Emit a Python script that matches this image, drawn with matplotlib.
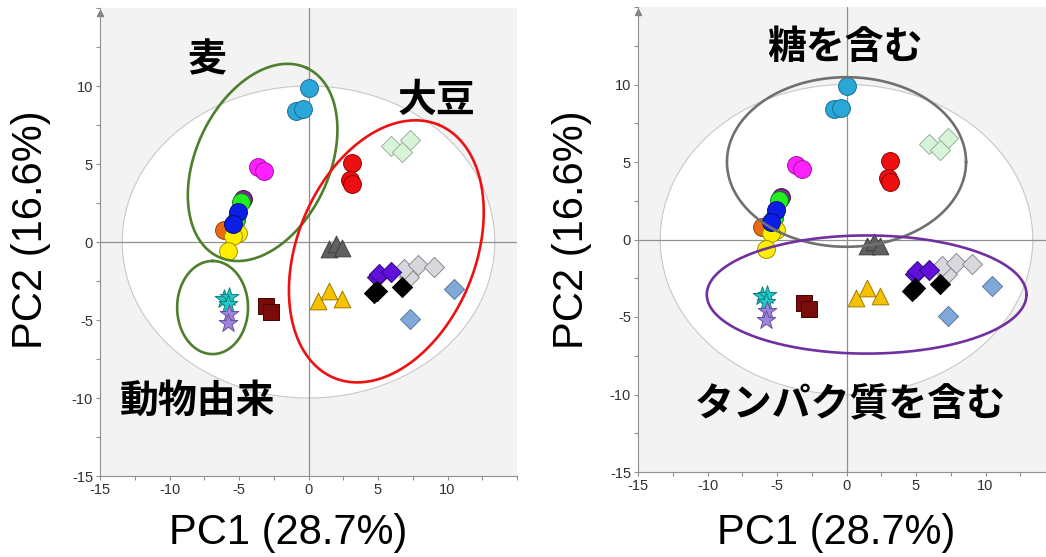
import numpy as np
import matplotlib
matplotlib.use("Agg")
import matplotlib.pyplot as plt
from matplotlib.patches import Ellipse
from matplotlib.ticker import MultipleLocator

plt.rcParams['font.family'] = ['Liberation Sans', 'DejaVu Sans']
plt.rcParams['axes.unicode_minus'] = False
JP = ['Noto Sans CJK JP', 'DejaVu Sans']

# PCA スコア (PC1, PC2)
cyan_x, cyan_y = [0.0, -0.9, -0.4], [9.9, 8.4, 8.5]
magenta_x, magenta_y = [-3.6, -3.2], [4.8, 4.55]
violet_x, violet_y = [-4.7], [2.75]
green_x, green_y = [-4.85, -5.2], [2.55, 1.4]
orange_x, orange_y = [-6.1], [0.8]
yellow_x, yellow_y = [-5.1, -5.4, -5.8], [0.6, 0.4, -0.6]
blue_x, blue_y = [-5.1, -5.4], [1.9, 1.15]
red_x, red_y = [3.1, 3.0, 3.1], [5.05, 4.0, 3.7]
mint_x, mint_y = [5.9, 7.3, 6.75], [6.15, 6.55, 5.75]
gray_tri_x, gray_tri_y = [1.5, 2.0, 2.4], [-0.45, -0.15, -0.4]
gold_x, gold_y = [0.7, 1.5, 2.4], [-3.8, -3.15, -3.65]
silver_x, silver_y = [7.2, 6.9, 7.9, 9.0], [-2.25, -1.7, -1.5, -1.6]
purple_x, purple_y = [4.9, 5.1, 5.9], [-2.25, -2.05, -1.95]
black_x, black_y = [4.7, 4.9, 6.7], [-3.3, -3.15, -2.9]
steel_x, steel_y = [10.5, 7.3], [-3.0, -4.95]
maroon_x, maroon_y = [-3.05, -2.7], [-4.1, -4.5]
teal_x, teal_y = [-6.1, -5.7, -5.8], [-3.65, -3.55, -4.0]
lilac_x, lilac_y = [-5.7, -5.8], [-4.6, -5.2]

# (x, y, marker, size, face, edge)
groups = [
    (cyan_x, cyan_y, 'o', 165, '#2aa7d9', '#1a6f90'),
    (magenta_x, magenta_y, 'o', 165, '#ff20ff', '#a010a0'),
    (violet_x, violet_y, 'o', 165, '#7a2a9a', '#40104a'),
    (green_x, green_y, 'o', 165, '#22ee22', '#108010'),
    (orange_x, orange_y, 'o', 165, '#ec6a10', '#904010'),
    (yellow_x, yellow_y, 'o', 165, '#ffee00', '#a09000'),
    (blue_x, blue_y, 'o', 165, '#0a1ee6', '#000a80'),
    (red_x, red_y, 'o', 165, '#ee1010', '#900000'),
    (mint_x, mint_y, 'D', 105, '#d8f4d8', '#9ab09a'),
    (gray_tri_x, gray_tri_y, '^', 145, '#606060', '#404040'),
    (gold_x, gold_y, '^', 145, '#f6c200', '#a07a00'),
    (silver_x, silver_y, 'D', 105, '#d6d8de', '#8a8a90'),
    (purple_x, purple_y, 'D', 105, '#6010d8', '#300880'),
    (black_x, black_y, 'D', 105, '#000000', '#000000'),
    (steel_x, steel_y, 'D', 105, '#80a8d8', '#5a7aa0'),
    (maroon_x, maroon_y, 's', 140, '#7a0c0c', '#4a0000'),
    (teal_x, teal_y, '*', 200, '#22c8c8', '#108080'),
    (lilac_x, lilac_y, '*', 200, '#a084dc', '#6a50a0'),
]


def ring(ax, cx, cy, a, b, deg, color):
    # ellipse drawn in screen-isotropic units so tilt looks right
    bb = ax.get_position()
    x0, x1 = ax.get_xlim()
    y0, y1 = ax.get_ylim()
    r = (bb.width * 1046 / (x1 - x0)) / (bb.height * 557 / (y1 - y0))
    t = np.linspace(0, 2 * np.pi, 300)
    u, v = a * np.cos(t), b * np.sin(t)
    th = np.radians(deg)
    xs = cx + u * np.cos(th) - v * np.sin(th)
    ys = cy + (u * np.sin(th) + v * np.cos(th)) * r
    ax.plot(xs, ys, color=color, lw=1.9, zorder=5)


def panel(rect, xlim):
    ax = fig.add_axes(rect)
    ax.set_xlim(*xlim)
    ax.set_ylim(-15, 15)
    ax.set_facecolor('#f3f3f3')
    ax.add_patch(Ellipse((0, 0), 26.8, 20, facecolor='white',
                         edgecolor='#c8c8c8', lw=0.8, zorder=0))
    ax.axhline(0, color='#909090', lw=0.9, zorder=1)
    ax.axvline(0, color='#909090', lw=0.9, zorder=1)
    for s in ['top', 'right']:
        ax.spines[s].set_visible(False)
    for s in ['left', 'bottom']:
        ax.spines[s].set_color('#909090')
    ax.set_xticks([-15, -10, -5, 0, 5, 10])
    ax.set_yticks([-15, -10, -5, 0, 5, 10])
    ax.xaxis.set_minor_locator(MultipleLocator(2.5))
    ax.yaxis.set_minor_locator(MultipleLocator(2.5))
    ax.tick_params(which='both', colors='#909090', labelcolor='#303030',
                   labelsize=10.5, length=3, width=0.8, pad=2)
    ax.plot([-15], [14.7], marker='^', ms=5, color='#808080', clip_on=False)
    for x, y, m, s, fc, ec in groups:
        ax.scatter(x, y, marker=m, s=s, facecolor=fc, edgecolor=ec,
                   linewidth=0.7, zorder=3)
    return ax


fig = plt.figure(figsize=(10.46, 5.57), dpi=100)

# 左: 原料別
ax1 = panel([100 / 1046, 81 / 557, 417 / 1046, 468 / 557], (-15, 15))
ring(ax1, -3.3, 5.1, 7.5, 4.8, 65, '#4e7f2c')
ring(ax1, 5.6, -0.6, 9.85, 6.4, 67.6, '#ee1111')
ring(ax1, -6.9, -4.2, 3.35, 2.55, 90, '#4e7f2c')
ax1.text(-7.3, 11.7, '麦', family=JP, fontsize=28, fontweight='bold',
         ha='center', va='center', zorder=6)
ax1.text(9.2, 9.1, '大豆', family=JP, fontsize=28, fontweight='bold',
         ha='center', va='center', zorder=6)
ax1.text(-8.0, -10.2, '動物由来', family=JP, fontsize=28, fontweight='bold',
         ha='center', va='center', zorder=6)

# 右: 成分別
ax2 = panel([638 / 1046, 85 / 557, 417 / 1046, 465 / 557], (-15, 15))
ring(ax2, 0.0, 5.0, 8.6, 6.1, 0, '#707070')
ring(ax2, 1.45, -3.55, 11.5, 4.25, 0, '#7030a0')
ax2.text(-0.1, 12.4, '糖を含む', family=JP, fontsize=28, fontweight='bold',
         ha='center', va='center', zorder=6)
ax2.text(0.3, -10.6, 'タンパク質を含む', family=JP, fontsize=28,
         fontweight='bold', ha='center', va='center', zorder=6)

fig.text(31 / 1046, 1 - 230 / 557, 'PC2 (16.6%)', rotation=90, fontsize=30,
         ha='center', va='center')
fig.text(572 / 1046, 1 - 230 / 557, 'PC2 (16.6%)', rotation=90, fontsize=30,
         ha='center', va='center')
fig.text(288 / 1046, 1 - 533 / 557, 'PC1 (28.7%)', fontsize=30,
         ha='center', va='center')
fig.text(836 / 1046, 1 - 533 / 557, 'PC1 (28.7%)', fontsize=30,
         ha='center', va='center')

fig.savefig('out.png', dpi=100)
